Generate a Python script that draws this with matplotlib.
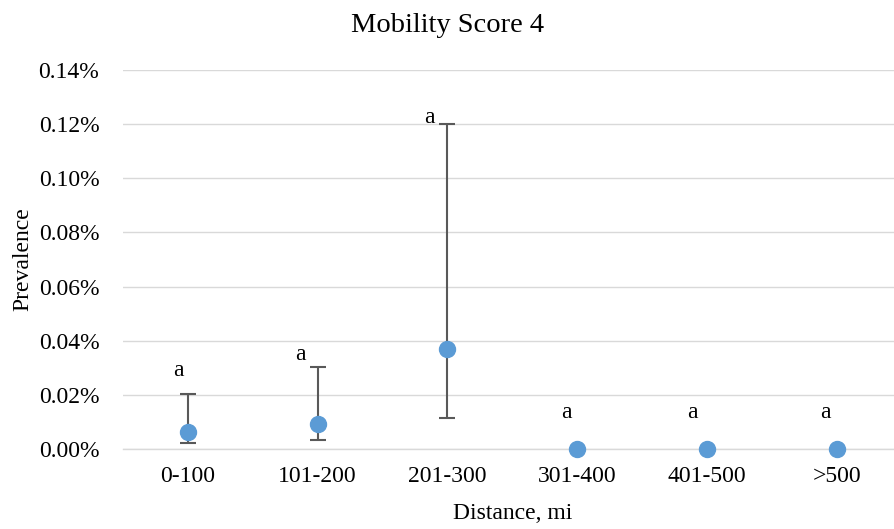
import matplotlib.pyplot as plt
from matplotlib.ticker import FuncFormatter

# Data (prevalence in percent)
distance = ["0-100", "101-200", "201-300", "301-400", "401-500", ">500"]
prevalence = [0.0063, 0.0092, 0.0370, 0.0, 0.0, 0.0]
ci_lower = [0.0022, 0.0033, 0.0115, 0.0, 0.0, 0.0]
ci_upper = [0.0203, 0.0303, 0.1200, 0.0, 0.0, 0.0]
letters = ["a", "a", "a", "a", "a", "a"]
label_y = [0.0292, 0.0348, 0.1224, 0.0135, 0.0135, 0.0135]

plt.rcParams["font.family"] = ["Liberation Serif", "DejaVu Serif"]

fig = plt.figure(figsize=(8.95, 5.29), dpi=100)
ax = fig.add_axes([0.1374, 0.151, 0.870, 0.717])

x = list(range(len(distance)))
err_lo = [p - l for p, l in zip(prevalence, ci_lower)]
err_hi = [u - p for p, u in zip(prevalence, ci_upper)]
has_err = [hi > 0 for hi in err_hi]

ex = [xi for xi, h in zip(x, has_err) if h]
ax.errorbar(ex, [prevalence[i] for i in ex],
            yerr=[[err_lo[i] for i in ex], [err_hi[i] for i in ex]],
            fmt="none", ecolor="#595959", elinewidth=1.5, capsize=6,
            capthick=1.5, zorder=2)
ax.plot(x, prevalence, "o", color="#5B9BD5", markersize=11.5,
        linestyle="none", zorder=3, clip_on=False)

offsets = [-0.07, -0.13, -0.14, -0.08, -0.11, -0.09]
for xi, y, t, dx in zip(x, label_y, letters, offsets):
    ax.text(xi + dx, y, t, ha="center", va="center", fontsize=17)

ax.set_xlim(-0.5, len(distance) - 0.5)
ax.set_ylim(0, 0.14)
ax.set_yticks([0, 0.02, 0.04, 0.06, 0.08, 0.10, 0.12, 0.14])
ax.yaxis.set_major_formatter(FuncFormatter(lambda v, p: f"{v:.2f}%"))
ax.set_xticks(x)
ax.set_xticklabels(distance)
ax.tick_params(axis="both", length=0, labelsize=17, labelcolor="#000000")
ax.tick_params(axis="x", pad=12)
ax.tick_params(axis="y", pad=17)
ax.grid(axis="y", color="#D9D9D9", linewidth=1)
ax.set_axisbelow(True)
for s in ["top", "right", "left"]:
    ax.spines[s].set_visible(False)
ax.spines["bottom"].set_color("#D9D9D9")
ax.spines["bottom"].set_linewidth(1)

ax.set_xlabel("Distance, mi", fontsize=17, labelpad=12)
ax.set_ylabel("Prevalence", fontsize=17, labelpad=4)
fig.text(0.5, 0.951, "Mobility Score 4", ha="center", va="center", fontsize=20.5)

plt.savefig("out.png", dpi=100)
